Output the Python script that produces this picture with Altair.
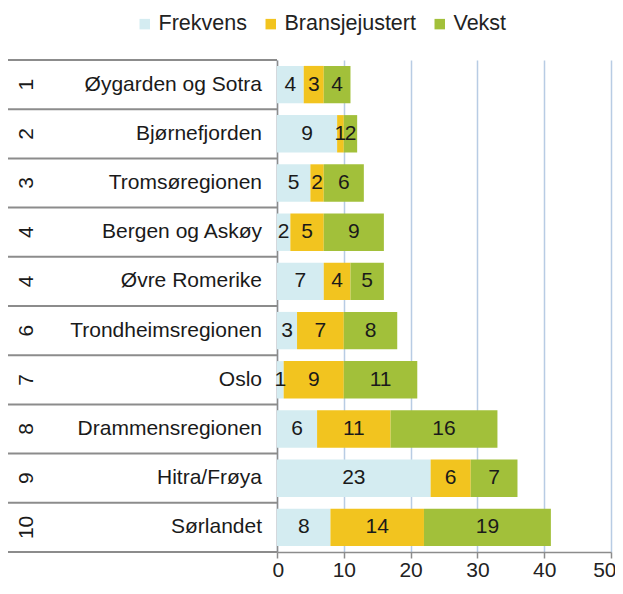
import altair as alt
import pandas as pd

regions = ["Øygarden og Sotra", "Bjørnefjorden", "Tromsøregionen", "Bergen og Askøy",
           "Øvre Romerike", "Trondheimsregionen", "Oslo", "Drammensregionen",
           "Hitra/Frøya", "Sørlandet"]
ranks = ["1", "2", "3", "4", "4", "6", "7", "8", "9", "10"]
series = ["Frekvens", "Bransjejustert", "Vekst"]
frekvens = [4, 9, 5, 2, 7, 3, 1, 6, 23, 8]
bransje = [3, 1, 2, 5, 4, 7, 9, 11, 6, 14]
vekst = [4, 2, 6, 9, 5, 8, 11, 16, 7, 19]
colors = ["#d4ecf1", "#f2c41f", "#a2c03a"]
x_ticks = [0, 10, 20, 30, 40, 50]

rows = []
for i, r in enumerate(regions):
    for k, (s, vals) in enumerate(zip(series, [frekvens, bransje, vekst])):
        rows.append({"region": r, "series": s, "value": vals[i], "order": k})
long = pd.DataFrame(rows)
table = pd.DataFrame({"region": regions, "rank": ranks})

FONT = "Liberation Sans"
ysort = regions

base = alt.Chart(long).transform_stack(
    stack="value", groupby=["region"], as_=["x0", "x1"],
    sort=[alt.SortField("order", order="ascending")]
).transform_calculate(mid="(datum.x0 + datum.x1) / 2")

bars = base.mark_bar(height=alt.RelativeBandSize(0.76)).encode(
    x=alt.X("x0:Q", scale=alt.Scale(domain=[0, 50], nice=False),
            axis=alt.Axis(values=x_ticks, title=None, grid=True, gridColor="#b8cce4",
                          gridWidth=1.5, domainColor="#8c8c8c", domainWidth=1.5,
                          tickColor="#8c8c8c", tickWidth=1.5, tickSize=6,
                          labelFontSize=21, labelColor="#222222", labelFont=FONT,
                          labelPadding=1, labelFlush=True, labelFlushOffset=5)),
    x2="x1:Q",
    y=alt.Y("region:N", sort=ysort, scale=alt.Scale(paddingInner=0, paddingOuter=0),
            axis=alt.Axis(labels=False, ticks=False, title=None, grid=False,
                          domainColor="#8c8c8c", domainWidth=1.5)),
    color=alt.Color("series:N", sort=series,
                    scale=alt.Scale(domain=series, range=colors),
                    legend=alt.Legend(title=None, orient="none", direction="horizontal",
                                      legendX=-143, legendY=-47, symbolType="square",
                                      symbolSize=110, symbolStrokeWidth=0,
                                      labelFontSize=21.5, labelFont=FONT,
                                      labelColor="#222222", labelOffset=3,
                                      columnPadding=13)),
)

labels = base.mark_text(fontSize=21, font=FONT, color="#1a1a1a").encode(
    x="mid:Q",
    y=alt.Y("region:N", sort=ysort),
    text="value:Q",
)

tbl = alt.Chart(table)

rank_text = tbl.mark_text(fontSize=21, font=FONT, color="#1a1a1a", angle=270).encode(
    x=alt.value(-250),
    y=alt.Y("region:N", sort=ysort),
    text="rank:N",
)

name_text = tbl.mark_text(fontSize=21, font=FONT, color="#1a1a1a", align="right").encode(
    x=alt.value(-15),
    y=alt.Y("region:N", sort=ysort),
    text="region:N",
)

sep_top = tbl.mark_rule(color="#8c8c8c", strokeWidth=2).encode(
    x=alt.value(-270), x2=alt.value(0),
    y=alt.Y("region:N", sort=ysort, bandPosition=0),
)

sep_bottom = tbl.transform_filter(
    alt.datum.region == regions[-1]
).mark_rule(color="#8c8c8c", strokeWidth=2).encode(
    x=alt.value(-270), x2=alt.value(0),
    y=alt.Y("region:N", sort=ysort, bandPosition=1),
)

chart = alt.layer(bars, labels, sep_top, sep_bottom, rank_text, name_text).properties(
    width=334, height=492,
    autosize=alt.AutoSizeParams(type="none"),
    padding={"left": 269, "top": 52, "right": 4, "bottom": 28},
).configure_view(strokeWidth=0)

chart.save("out.html", embed_options={"renderer": "svg", "actions": False})
